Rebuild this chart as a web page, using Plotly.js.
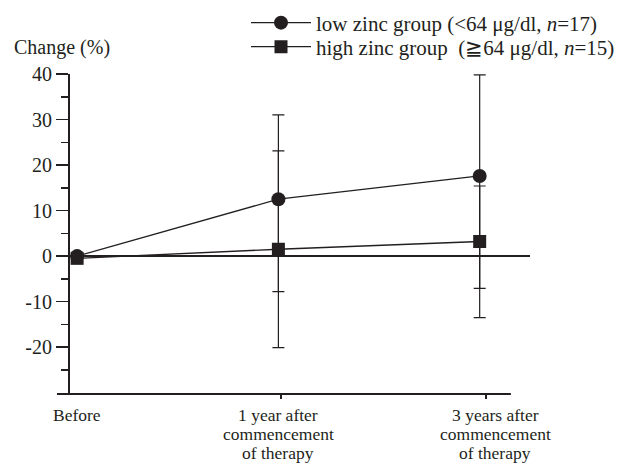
<!DOCTYPE html>
<html>
<head>
<meta charset="utf-8">
<script src="https://cdn.plot.ly/plotly-3.0.1.min.js"></script>
<style>html,body{margin:0;padding:0;background:#fff;}#chart{width:618px;height:464px;}</style>
</head>
<body>
<div id="chart"></div>
<script>
var categories = ['Before', '1 year after<br>commencement<br>of therapy', '3 years after<br>commencement<br>of therapy'];
var xPos = [0, 1, 2];
var lowName = 'low zinc group (&lt;64 μg/dl, <i>n</i>=17)';
var highName = 'high zinc group  (≧64 μg/dl, <i>n</i>=15)';
var lowMean = [0, 12.5, 17.6];
var lowPlus = [0, 18.5, 22.2];
var lowMinus = [0, 20.3, 24.7];
var highMean = [-0.5, 1.5, 3.2];
var highPlus = [0, 21.6, 12.2];
var highMinus = [0, 21.6, 16.7];
var yTickVals = [-20, -10, 0, 10, 20, 30, 40];
var yTickText = ['-20', '-10', '0', '10', '20', '30', '40'];
var yMinorVals = [-25, -15, -5, 5, 15, 25, 35];

var ink = '#231f20';
var font = 'Liberation Serif, Times New Roman, serif';

// layout helpers (pixel geometry)
var plotTop = 74, plotBottom = 394, plotH = plotBottom - plotTop;
function paperY(px) { return (plotBottom - px) / plotH; }
var labelX = [0, 1, 2.077];
var labelLineY = [415, 434, 453];

var traces = [
  {
    x: xPos, y: lowMean, name: lowName, type: 'scatter', mode: 'lines+markers',
    line: {color: ink, width: 1.3},
    marker: {symbol: 'circle', size: 14, color: ink},
    error_y: {type: 'data', symmetric: false, array: lowPlus, arrayminus: lowMinus, color: ink, thickness: 1.2, width: 6},
    cliponaxis: false, legend: 'legend'
  },
  {
    x: xPos, y: highMean, name: highName, type: 'scatter', mode: 'lines+markers',
    line: {color: ink, width: 1.3},
    marker: {symbol: 'square', size: 13, color: ink},
    error_y: {type: 'data', symmetric: false, array: highPlus, arrayminus: highMinus, color: ink, thickness: 1.2, width: 6},
    cliponaxis: false, legend: 'legend2'
  }
];

var annotations = [
  {text: 'Change (%)', xref: 'paper', yref: 'paper', x: -0.0951, y: paperY(48), xanchor: 'left', yanchor: 'middle',
   showarrow: false, font: {family: font, size: 20, color: ink}}
];
categories.forEach(function (cat, i) {
  cat.split('<br>').forEach(function (line, j) {
    annotations.push({text: line, xref: 'x', yref: 'paper', x: labelX[i], y: paperY(labelLineY[j]),
      xanchor: 'center', yanchor: 'middle', showarrow: false, font: {family: font, size: 17.5, color: ink}});
  });
});

var legendCommon = {xanchor: 'left', yanchor: 'middle', bgcolor: 'rgba(0,0,0,0)',
  font: {family: font, size: 21, color: ink}, itemwidth: 60, borderwidth: 0};

var layout = {
  width: 618, height: 464,
  margin: {l: 57, r: 88, t: 74, b: 70, pad: 0, autoexpand: false},
  paper_bgcolor: '#fff', plot_bgcolor: '#fff',
  font: {family: font, size: 20, color: ink},
  showlegend: true,
  legend: Object.assign({x: 0.3996, y: paperY(23)}, legendCommon),
  legend2: Object.assign({x: 0.3996, y: paperY(47)}, legendCommon),
  xaxis: {
    range: [-0.1, 2.25], showgrid: false, zeroline: false, showline: false, automargin: false,
    tickvals: xPos, showticklabels: false, ticks: '',
    minor: {tickvals: [1.015, 2.03], ticks: 'outside', ticklen: 4, tickwidth: 2, tickcolor: ink},
    fixedrange: true
  },
  yaxis: {
    range: [-30.3, 40], anchor: 'free', position: 0.02537, automargin: false,
    showgrid: false, zeroline: true, zerolinecolor: ink, zerolinewidth: 2,
    showline: true, linecolor: ink, linewidth: 2,
    tickvals: yTickVals, ticktext: yTickText, ticks: 'outside', ticklen: 12, tickwidth: 1.5, tickcolor: ink,
    tickfont: {family: font, size: 20, color: ink},
    minor: {tickvals: yMinorVals, ticks: 'outside', ticklen: 7, tickwidth: 1.5, tickcolor: ink},
    fixedrange: true
  },
  shapes: [
    {type: 'line', xref: 'x', yref: 'paper', x0: -0.1, x1: 2.155, y0: 0, y1: 0, line: {color: ink, width: 2}}
  ],
  annotations: annotations
};

Plotly.newPlot('chart', traces, layout, {displayModeBar: false, staticPlot: true});
</script>
</body>
</html>
